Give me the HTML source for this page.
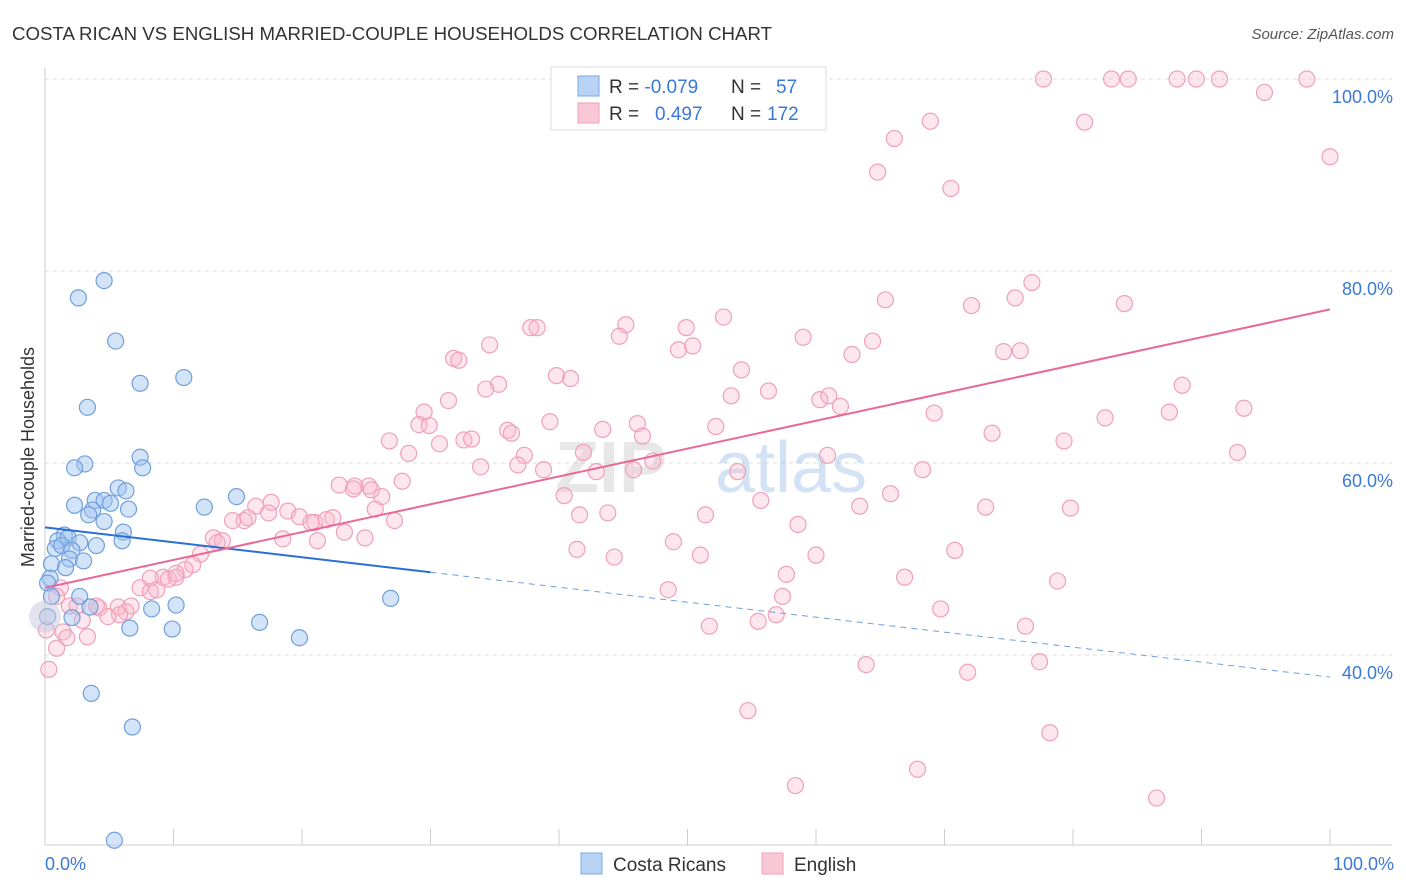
<!DOCTYPE html>
<html><head><meta charset="utf-8"><style>
body{margin:0;background:#fff;font-family:"Liberation Sans",sans-serif;}
svg{display:block}
</style></head><body>
<svg id="chart" width="1406" height="892">
<text x="12" y="40" font-size="18" fill="#333" textLength="760" lengthAdjust="spacingAndGlyphs">COSTA RICAN VS ENGLISH MARRIED-COUPLE HOUSEHOLDS CORRELATION CHART</text>
<text x="1394" y="39" font-size="15" fill="#555" font-style="italic" text-anchor="end">Source: ZipAtlas.com</text>
<g id="grid"></g>
<text x="555" y="492" font-size="72" fill="#ccc" opacity="0.45" font-weight="bold">ZIP</text>
<text x="715" y="492" font-size="72" fill="#9fc0e8" opacity="0.45">atlas</text>
<g id="pts"></g>
<g id="lines"></g>
<text transform="translate(34,457) rotate(-90)" font-size="18" fill="#333" text-anchor="middle">Married-couple Households</text>
<text x="45" y="870" font-size="18" fill="#3b78d8">0.0%</text>
<text x="1394" y="870" font-size="18" fill="#3b78d8" text-anchor="end">100.0%</text>
<g>
<rect x="551" y="67" width="275" height="63" fill="#fff" stroke="#ddd"/>
<rect x="578" y="76" width="21" height="20" fill="#b8d3f4" stroke="#7aa8e0"/>
<rect x="578" y="103" width="21" height="20" fill="#f9c8d6" stroke="#f0a0b8"/>
<text x="609" y="93" font-size="19" fill="#333">R = <tspan fill="#3b78d8">-0.079</tspan><tspan x="731">N = </tspan><tspan x="776" fill="#3b78d8">57</tspan></text>
<text x="609" y="120" font-size="19" fill="#333">R = <tspan x="655" fill="#3b78d8">0.497</tspan><tspan x="731">N = </tspan><tspan x="767" fill="#3b78d8">172</tspan></text>
</g>
<g>
<rect x="581" y="853" width="21" height="21" fill="#b8d3f4" stroke="#7aa8e0"/>
<text x="613" y="871" font-size="19" fill="#333">Costa Ricans</text>
<rect x="762" y="853" width="21" height="21" fill="#f9c8d6" stroke="#f0a0b8"/>
<text x="794" y="871" font-size="19" fill="#333">English</text>
</g>
</svg>
<script>
const yTicks=[40,60,80,100];
const yTickLabels=["40.0%","60.0%","80.0%","100.0%"];
const xTicks=[0,10,20,30,40,50,60,70,80,90,100];
const blueX=[4.6,2.6,5.5,7.4,10.8,3.3,7.4,7.6,3.1,2.3,5.7,6.3,14.9,2.3,3.9,4.6,5.1,3.7,6.5,12.4,3.4,4.6,1.5,6.1,1.0,1.8,2.7,0.8,1.3,4.0,6.0,2.1,1.9,3.0,0.5,1.6,0.4,0.2,0.5,2.7,8.3,10.2,3.5,2.1,0.2,6.6,9.9,16.7,19.8,26.9,3.6,6.8,5.4];
const blueY=[79.0,77.2,72.7,68.3,68.9,65.8,60.6,59.5,59.9,59.5,57.4,57.1,56.5,55.6,56.1,56.1,55.8,55.1,55.2,55.4,54.6,53.9,52.5,52.8,51.9,52.2,51.7,51.1,51.4,51.4,51.9,50.9,50.0,49.8,49.5,49.1,48.0,47.5,46.1,46.1,44.8,45.2,45.0,43.9,44.0,42.8,42.7,43.4,41.8,45.9,36.0,32.5,20.7];
const pinkX=[77.7,83.0,84.3,88.1,89.6,91.4,98.2,94.9,80.9,68.9,66.1,100,64.8,70.5,65.4,76.8,75.5,72.1,84.0,52.8,45.2,49.9,37.8,38.3,44.7,34.6,59.0,64.4,74.6,75.9,49.3,50.4,31.8,32.2,62.8,54.2,35.3,34.3,39.8,40.9,56.3,88.5,31.4,53.4,60.3,61.0,61.9,69.2,82.5,87.5,93.3,29.5,29.1,29.9,39.3,36.0,36.3,46.1,52.2,43.4,46.5,26.8,28.3,30.7,32.6,33.2,73.7,79.3,37.3,41.9,60.9,92.8,33.9,36.8,38.8,42.9,45.8,47.3,68.3,53.9,27.8,22.9,24.1,25.2,26.2,24.0,25.4,40.4,55.7,65.8,73.2,79.8,63.4,58.6,17.6,18.9,16.4,25.7,27.2,17.4,19.8,15.5,14.6,15.8,21.0,21.9,20.7,22.4,23.3,24.9,21.2,18.5,13.1,13.8,13.4,12.1,41.4,44.3,48.9,51.0,51.4,41.6,43.8,70.8,60.0,11.5,10.9,10.2,9.2,8.2,9.6,7.4,8.2,8.7,10.2,57.7,66.9,78.8,1.2,0.9,1.9,2.5,4.2,4.0,5.7,6.7,6.3,5.8,4.9,2.9,48.5,57.4,69.7,55.5,56.9,51.7,76.3,0.1,1.4,3.3,1.7,0.9,63.9,77.4,71.8,0.3,54.7,78.2,67.9,58.4,86.5];
const pinkY=[100,100,100,100,100,100,100,98.6,95.5,95.6,93.8,91.9,90.3,88.6,77.0,78.8,77.2,76.4,76.6,75.2,74.4,74.1,74.1,74.1,73.2,72.3,73.1,72.7,71.6,71.7,71.8,72.2,70.9,70.7,71.3,69.7,68.2,67.7,69.1,68.8,67.5,68.1,66.5,67.0,66.6,67.0,65.9,65.2,64.7,65.3,65.7,65.3,64.0,63.9,64.3,63.4,63.1,64.1,63.8,63.5,62.8,62.3,61.0,62.0,62.4,62.5,63.1,62.3,60.8,61.1,60.8,61.1,59.6,59.8,59.3,59.1,59.3,60.2,59.3,59.1,58.1,57.7,57.6,57.6,56.5,57.3,57.2,56.6,56.1,56.8,55.4,55.3,55.5,53.6,55.9,55.0,55.5,55.2,54.0,54.8,54.4,54.0,54.0,54.3,53.8,54.1,53.8,54.3,52.8,52.2,51.9,52.1,52.2,51.9,51.7,50.5,51.0,50.2,51.8,50.4,54.6,54.6,54.8,50.9,50.4,49.4,48.9,48.1,48.1,48.0,47.9,47.0,46.6,46.8,48.5,48.4,48.1,47.7,47.0,46.1,45.1,45.1,44.9,45.1,45.0,45.1,44.5,44.2,44.0,43.6,46.8,46.1,44.8,43.5,44.2,43.0,43.0,42.6,42.4,41.9,41.8,40.7,39.0,39.3,38.2,38.5,34.2,31.9,28.1,26.4,25.1];
const blueTrend=[53.3,37.7];
const pinkTrend=[47.0,76.0];
const blueSolidEnd=30;
const NS="http://www.w3.org/2000/svg";
function sx(v){return 45+v*12.85;}
function sy(v){return 1039-v*9.6;}
function mk(tag,attrs,parent){const e=document.createElementNS(NS,tag);for(const k in attrs)e.setAttribute(k,attrs[k]);parent.appendChild(e);return e;}
const grid=document.getElementById('grid');
yTicks.forEach((t,i)=>{
  const l=mk('line',{x1:45,x2:1392,y1:sy(t),y2:sy(t),stroke:'#ddd','stroke-dasharray':'4,4'},grid);
  
  
  const tx=mk('text',{x:1393,y:sy(t)+24,'font-size':18,fill:'#3b78d8','text-anchor':'end'},grid);
  tx.textContent=yTickLabels[i];
  
  
});
const ax=mk('line',{x1:45,x2:45,y1:68,y2:845,stroke:'#ccc'},grid);


const bx=mk('line',{x1:45,x2:1392,y1:845,y2:845,stroke:'#ccc'},grid);


xTicks.forEach(t=>{
  const l=mk('line',{x1:sx(t),x2:sx(t),y1:829,y2:845,stroke:'#ccc'},grid);
  
  
});
const pts=document.getElementById('pts');
pinkX.forEach((x,i)=>{
  const c=mk('circle',{cx:sx(x),cy:sy(pinkY[i]),r:8,fill:'rgba(248,184,204,0.35)',stroke:'#f0a0b8','stroke-width':1.2},pts);
  
  
});
blueX.forEach((x,i)=>{
  const c=mk('circle',{cx:sx(x),cy:sy(blueY[i]),r:8,fill:'rgba(160,196,240,0.45)',stroke:'#6f9fdc','stroke-width':1.2},pts);
  
  
});
const big=mk('circle',{cx:sx(0),cy:sy(44),r:16,fill:'rgba(200,200,220,0.5)',stroke:'none'},pts);


const lines=document.getElementById('lines');
function ty(tr,x){return tr[0]+(tr[1]-tr[0])*x/100;}
const b1=mk('line',{x1:sx(0),y1:sy(ty(blueTrend,0)),x2:sx(blueSolidEnd),y2:sy(ty(blueTrend,blueSolidEnd)),stroke:'#2a6fd6','stroke-width':2},lines);


const b2=mk('line',{x1:sx(blueSolidEnd),y1:sy(ty(blueTrend,blueSolidEnd)),x2:sx(100),y2:sy(ty(blueTrend,100)),stroke:'#6f9fdc','stroke-width':1,'stroke-dasharray':'6,5'},lines);


const p1=mk('line',{x1:sx(0),y1:sy(ty(pinkTrend,0)),x2:sx(100),y2:sy(ty(pinkTrend,100)),stroke:'#e8689a','stroke-width':2},lines);


</script>
</body></html>
